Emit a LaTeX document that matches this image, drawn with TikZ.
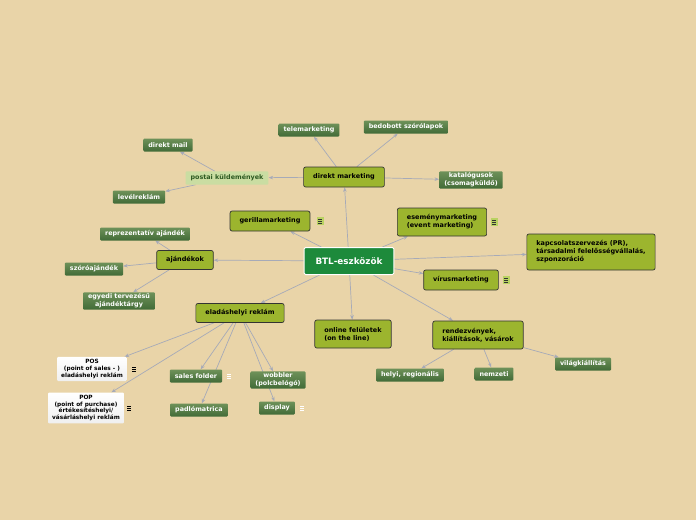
\documentclass[tikz,border=0pt]{standalone}
\usepackage{fontspec}
\setmainfont{DejaVu Sans}
\usepackage{tikz}
\usetikzlibrary{arrows.meta,positioning,shapes}
\usepackage{xcolor}
\definecolor{paper}{HTML}{E9D4A8}
\definecolor{rootgreen}{HTML}{1D8A3B}
\definecolor{olive}{HTML}{9CB52E}
\definecolor{subtop}{HTML}{6E9159}
\definecolor{subbot}{HTML}{416B37}
\definecolor{lightsub}{HTML}{CADDA2}
\definecolor{lighttext}{HTML}{2E5A22}
\definecolor{linegray}{HTML}{A6AAB8}
\definecolor{noteback}{HTML}{B9D262}
\pgfdeclarelayer{background}
\pgfdeclarelayer{edges}
\pgfsetlayers{background,edges,main}

\tikzset{
  root/.style={draw=white,line width=1pt,fill=rootgreen,rounded corners=1.5pt,text=white,
    font=\fontsize{8.8}{10}\selectfont\bfseries,inner xsep=11.5pt,minimum height=27pt},
  topic/.style={draw=black!80,line width=0.7pt,fill=olive,rounded corners=2pt,text=black,
    font=\fontsize{6.5}{8}\selectfont\bfseries,inner xsep=9.5pt,minimum height=20pt,align=left},
  subtopic/.style={shade,top color=subtop,bottom color=subbot,rounded corners=1pt,text=white,
    font=\fontsize{6.4}{7.8}\selectfont\bfseries,inner xsep=5pt,inner ysep=2.5pt,minimum height=13pt,align=center},
  lightbox/.style={fill=lightsub,rounded corners=1pt,text=lighttext,
    font=\fontsize{6.4}{7.8}\selectfont\bfseries,inner xsep=5pt,minimum height=13pt},
  whitebox/.style={shade,top color=white,bottom color=black!6,rounded corners=1pt,text=black,
    font=\fontsize{5.8}{6.8}\selectfont\bfseries,inner xsep=4pt,inner ysep=2.5pt,align=center},
  note/.style={minimum width=7pt,minimum height=8pt,inner sep=0pt,
    path picture={\foreach \dy in {-2,0,2}
      \draw[#1,line width=0.8pt] ([xshift=1.6pt,yshift=\dy pt]path picture bounding box.west)
        -- ([xshift=-1.6pt,yshift=\dy pt]path picture bounding box.east);}},
  edge/.style={draw=linegray,line width=0.7pt,-{Stealth[length=4.5pt,width=3.5pt]}}
}

\begin{document}
\begin{tikzpicture}[x=1pt,y=-1pt]
  \begin{pgfonlayer}{background}
    \fill[paper] (0,0) rectangle (696,520);
  \end{pgfonlayer}
  \useasboundingbox (0,0) rectangle (696,520);

  % central topic
  \node[root] (btl) at (349,261) {BTL-eszközök};

  % main topics
  \node[topic] (direkt) at (344,177) {direkt marketing};
  \node[topic] (gerilla) at (270,221) {gerillamarketing};
  \node[topic,minimum height=28pt] (esemeny) at (442,222) {eseménymarketing\\(event marketing)};
  \node[topic,minimum height=36pt] (pr) at (591,252)
    {kapcsolatszervezés (PR),\\társadalmi felelősségvállalás,\\szponzoráció};
  \node[topic] (virus) at (461,280) {vírusmarketing};
  \node[topic,minimum height=19pt] (ajandek) at (185,260) {ajándékok};
  \node[topic,minimum height=19pt] (elad) at (240,313) {eladáshelyi reklám};
  \node[topic,minimum height=28pt] (online) at (353,334) {online felületek\\(on the line)};
  \node[topic,minimum height=28pt] (rendezv) at (478,335) {rendezvények,\\kiállítások, vásárok};

  % notes
  \node[note=black!80,fill=noteback] (gerillanote) at (320,221) {};
  \node[note=black!80,fill=noteback] (esemenynote) at (494,222) {};
  \node[note=black!80,fill=noteback] (virusnote) at (506,280) {};

  % direkt marketing
  \node[subtopic] (tele) at (309,130) {telemarketing};
  \node[subtopic] (bedob) at (406,127) {bedobott szórólapok};
  \node[subtopic,inner ysep=1.5pt] (katal) at (471,180) {katalógusok\\(csomagküldő)};
  \node[lightbox] (postai) at (227,178) {postai küldemények};
  \node[subtopic] (dmail) at (168,145) {direkt mail};
  \node[subtopic] (level) at (139,197) {levélreklám};

  % ajandekok
  \node[subtopic] (repr) at (145,234) {reprezentatív ajándék};
  \node[subtopic] (szoro) at (94,269) {szóróajándék};
  \node[subtopic,inner ysep=1.5pt] (egyedi) at (119,301) {egyedi tervezésű\\ajándéktárgy};

  % eladashelyi reklam
  \node[whitebox] (pos) at (92,369) {POS\\(point of sales - )\\eladáshelyi reklám};
  \node[whitebox] (pop) at (86,408) {POP\\(point of purchase)\\értékesítéshelyi/\\vásárláshelyi reklám};
  \node[subtopic] (sales) at (196,376) {sales folder};
  \node[subtopic] (padlo) at (199,410) {padlómatrica};
  \node[subtopic,inner ysep=1.5pt] (wobbler) at (278,380) {wobbler\\(polcbelógó)};
  \node[subtopic] (display) at (277,408) {display};
  \node[note=black] (posnote) at (134,369) {};
  \node[note=black] (popnote) at (129,408) {};
  \node[note=white] (salesnote) at (229,376) {};
  \node[note=white] (displaynote) at (302,408) {};

  % rendezvenyek
  \node[subtopic] (helyi) at (410,375) {helyi, regionális};
  \node[subtopic] (nemzeti) at (494,374) {nemzeti};
  \node[subtopic] (vilag) at (583,364) {világkiállítás};

  \begin{pgfonlayer}{edges}
    \foreach \child in {direkt,gerilla,esemeny,pr,virus,ajandek,elad,online,rendezv}
      \draw[edge] (btl) -- (\child);
    \foreach \child in {tele,bedob,katal,postai}
      \draw[edge] (direkt) -- (\child);
    \foreach \child in {dmail,level}
      \draw[edge] (postai) -- (\child);
    \foreach \child in {repr,szoro,egyedi}
      \draw[edge] (ajandek) -- (\child);
    \foreach \child in {pos,pop,sales,padlo,wobbler,display}
      \draw[edge] (elad) -- (\child);
    \foreach \child in {helyi,nemzeti,vilag}
      \draw[edge] (rendezv) -- (\child);
  \end{pgfonlayer}
\end{tikzpicture}
\end{document}
